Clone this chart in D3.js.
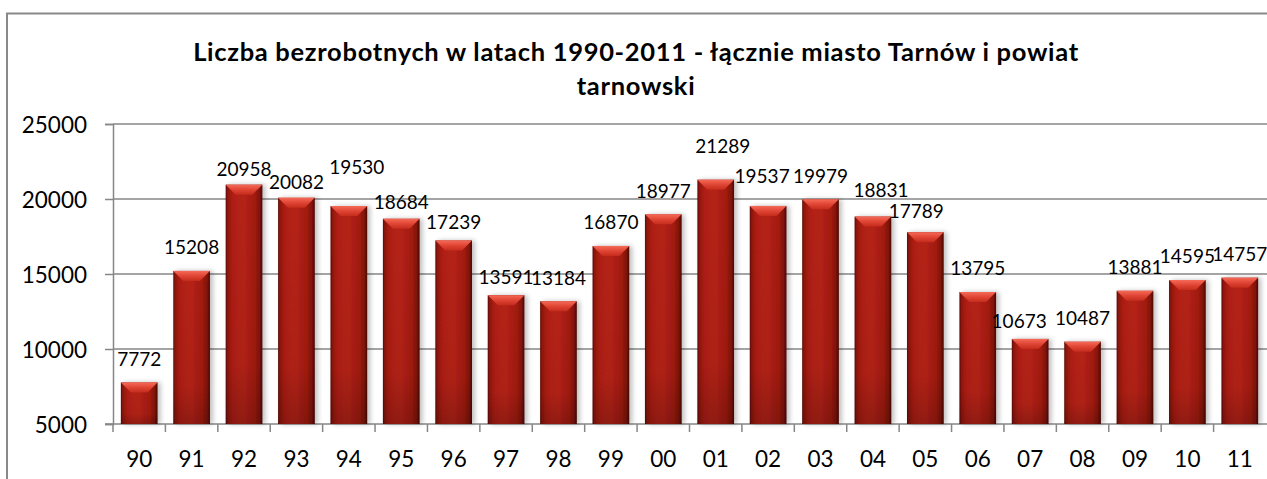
<!DOCTYPE html>
<html>
<head>
<meta charset="utf-8">
<script src="https://cdn.jsdelivr.net/npm/d3@7"></script>
<style>
  html, body { margin: 0; padding: 0; background: #fff; overflow: hidden; }
  svg { display: block; font-family: Lato, "Open Sans", sans-serif; }
</style>
</head>
<body>
<svg id="chart"></svg>
<script>
const years = ["90", "91", "92", "93", "94", "95", "96", "97", "98", "99", "00",
               "01", "02", "03", "04", "05", "06", "07", "08", "09", "10", "11"];
const unemployed = [7772, 15208, 20958, 20082, 19530, 18684, 17239, 13591, 13184, 16870, 18977,
                    21289, 19537, 19979, 18831, 17789, 13795, 10673, 10487, 13881, 14595, 14757];
const yTicks = [5000, 10000, 15000, 20000, 25000];
const titleLines = ["Liczba bezrobotnych w latach 1990-2011 - łącznie miasto Tarnów i powiat", "tarnowski"];

// hand-placed labels in the original (dx, dy in px)
const labelNudge = {
  "92": [0, 8], "93": [0, 8], "94": [8, -15], "95": [0, 7], "96": [0, 5], "97": [0, 6],
  "01": [7, -10], "02": [-6, -6], "04": [8, -3], "05": [-9, 2], "07": [-11, 6]
};

const width = 1267, height = 479;
const margin = { top: 124, right: 1, bottom: 55, left: 113 };

const svg = d3.select("#chart").attr("width", width).attr("height", height);

// outer chart frame (only top and left visible)
svg.append("path")
  .attr("d", `M7,${height} V13.5 H${width}`)
  .attr("fill", "none")
  .attr("stroke", "#898989")
  .attr("stroke-width", 2);

const x = d3.scaleBand()
  .domain(years)
  .range([margin.left, width - margin.right])
  .paddingInner(0.3)
  .paddingOuter(0.15);

const y = d3.scaleLinear()
  .domain([5000, 25000])
  .range([height - margin.bottom, margin.top]);

// title
svg.append("text")
  .attr("x", 636)
  .attr("text-anchor", "middle")
  .style("font-weight", "bold")
  .style("font-size", "25.5px")
  .style("letter-spacing", "0.7px")
  .selectAll("tspan")
  .data(titleLines)
  .join("tspan")
  .attr("x", 636)
  .attr("y", (d, i) => 61 + i * 34)
  .text(d => d);

// gridlines
svg.append("g")
  .selectAll("line")
  .data(yTicks.slice(1))
  .join("line")
  .attr("x1", margin.left)
  .attr("x2", width)
  .attr("y1", d => y(d))
  .attr("y2", d => y(d))
  .attr("stroke", "#868686")
  .attr("stroke-width", 1.5);

// Y axis
const yAxis = svg.append("g")
  .attr("transform", `translate(${margin.left},0)`)
  .call(d3.axisLeft(y).tickValues(yTicks).tickSize(8).tickPadding(18).tickFormat(d3.format("d")));
yAxis.select(".domain").attr("stroke", "#868686").attr("stroke-width", 1.5);
yAxis.selectAll(".tick line").attr("stroke", "#868686").attr("stroke-width", 1.5);
yAxis.selectAll(".tick text")
  .style("font-family", "Lato, sans-serif")
  .style("font-size", "22.5px")
  .attr("fill", "#000")
  .attr("dy", "0.36em");

// X axis (ticks on band boundaries)
const xAxisG = svg.append("g").attr("transform", `translate(0,${y(5000)})`);
xAxisG.append("line")
  .attr("x1", margin.left - 8).attr("x2", width)
  .attr("stroke", "#868686").attr("stroke-width", 1.5);
const bounds = years.map(d => x(d) - x.step() * x.paddingInner() / 2);
xAxisG.selectAll("line.tk")
  .data(bounds)
  .join("line")
  .attr("class", "tk")
  .attr("x1", d => d).attr("x2", d => d)
  .attr("y1", 0).attr("y2", 8)
  .attr("stroke", "#868686").attr("stroke-width", 1.5);
xAxisG.selectAll("text")
  .data(years)
  .join("text")
  .attr("x", d => x(d) + x.bandwidth() / 2)
  .attr("y", 35)
  .attr("dy", "0.36em")
  .attr("text-anchor", "middle")
  .style("font-size", "22.5px")
  .text(d => d);

// bar shading
const defs = svg.append("defs");
const bodyGrad = defs.append("linearGradient").attr("id", "barBody");
bodyGrad.selectAll("stop")
  .data([[0, "#5e0b06"], [0.06, "#92170c"], [0.2, "#b01f13"], [0.5, "#b52115"], [0.8, "#a01b10"], [0.93, "#7d1209"], [1, "#4a0703"]])
  .join("stop")
  .attr("offset", d => d[0]).attr("stop-color", d => d[1]);
const vGrad = defs.append("linearGradient").attr("id", "barV").attr("x1", 0).attr("x2", 0).attr("y1", 0).attr("y2", 1);
vGrad.selectAll("stop")
  .data([[0, "rgba(0,0,0,0)"], [0.75, "rgba(0,0,0,0.04)"], [1, "rgba(0,0,0,0.2)"]])
  .join("stop")
  .attr("offset", d => d[0]).attr("stop-color", d => d[1]);
const topGrad = defs.append("linearGradient").attr("id", "barTop").attr("x1", 0).attr("x2", 0).attr("y1", 0).attr("y2", 1);
topGrad.selectAll("stop")
  .data([[0, "#f56a58"], [0.5, "#e04534"], [1, "#c42c1c"]])
  .join("stop")
  .attr("offset", d => d[0]).attr("stop-color", d => d[1]);
const shadow = defs.append("filter").attr("id", "shadow").attr("x", "-20%").attr("width", "140%");
shadow.append("feGaussianBlur").attr("in", "SourceAlpha").attr("stdDeviation", 2.5);
shadow.append("feOffset").attr("dx", 3).attr("dy", 0).attr("result", "b");
shadow.append("feComponentTransfer").append("feFuncA").attr("type", "linear").attr("slope", 0.25);
const merge = shadow.append("feMerge");
merge.append("feMergeNode");
merge.append("feMergeNode").attr("in", "SourceGraphic");

const data = years.map((d, i) => ({ year: d, value: unemployed[i] }));
const bevel = 10;

const bars = svg.append("g")
  .selectAll("g")
  .data(data)
  .join("g");

bars.append("rect")
  .attr("x", d => x(d.year))
  .attr("y", d => y(d.value))
  .attr("width", x.bandwidth())
  .attr("height", d => y(5000) - y(d.value))
  .attr("fill", "url(#barBody)")
  .attr("filter", "url(#shadow)");

bars.append("rect")
  .attr("x", d => x(d.year))
  .attr("y", d => y(d.value))
  .attr("width", x.bandwidth())
  .attr("height", d => y(5000) - y(d.value))
  .attr("fill", "url(#barV)");

bars.append("path")
  .attr("d", d => {
    const x0 = x(d.year), x1 = x0 + x.bandwidth(), y0 = y(d.value);
    return `M${x0},${y0} H${x1} L${x1 - bevel},${y0 + bevel} H${x0 + bevel} Z`;
  })
  .attr("fill", "url(#barTop)");

// value labels
svg.append("g")
  .selectAll("text")
  .data(data)
  .join("text")
  .attr("x", d => x(d.year) + x.bandwidth() / 2 + (labelNudge[d.year] ? labelNudge[d.year][0] : 0))
  .attr("y", d => y(d.value) - 23.5 + (labelNudge[d.year] ? labelNudge[d.year][1] : 0))
  .attr("dy", "0.36em")
  .attr("text-anchor", "middle")
  .style("font-size", "19px")
  .text(d => d.value);
</script>
</body>
</html>
